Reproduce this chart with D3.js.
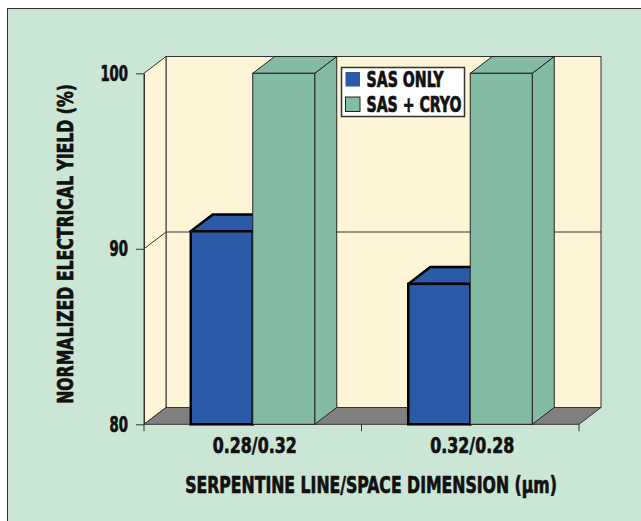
<!DOCTYPE html>
<html>
<head>
<meta charset="utf-8">
<script src="https://cdn.jsdelivr.net/npm/d3@7"></script>
<style>
  html, body { margin: 0; padding: 0; background: #ffffff; }
  svg { display: block; }
  text { font-family: "Liberation Sans Narrow", "DejaVu Sans Condensed", "DejaVu Sans", sans-serif; font-weight: bold; fill: #111; stroke: #111; stroke-width: 0.7px; stroke-linejoin: round; }
</style>
</head>
<body>
<svg id="chart" width="641" height="521"></svg>
<script>
// Categories along the x axis
const categories = ["0.28/0.32", "0.32/0.28"];
// Series names shown in the legend
const seriesNames = ["SAS ONLY", "SAS + CRYO"];
// Normalized electrical yield (%) per category
const sasOnly = [91, 88];
const sasCryo = [100, 100];
// Y axis tick labels
const yTicks = [80, 90, 100];

const W = 641, H = 521;
const svg = d3.select("#chart");

const colors = {
  panel: "#cce6d6",
  wall: "#fdf5d6",
  floor: "#808080",
  line: "#333333",
  blue: "#2a5aa8",
  green: "#84bba5"
};
const seriesColors = [colors.blue, colors.green];

// 3D depth offset of the plot box
const depthX = 22, depthY = 16.8;

const y = d3.scaleLinear().domain([80, 100]).range([424.3, 73.3]);
const x = d3.scaleBand().domain(categories).range([144, 579]);
const barW = x.bandwidth() * 0.285;

// Bold condensed label: natural text squeezed horizontally to a given width
function label(parent, str, o) {
  const g = parent.append("g")
    .attr("transform", `translate(${o.x},${o.y})` + (o.rotate ? ` rotate(${o.rotate})` : ""));
  const t = g.append("text")
    .attr("text-anchor", o.anchor || "start")
    .attr("font-size", o.size)
    .text(str);
  const natural = t.node().getComputedTextLength();
  if (o.width && natural > 0) t.attr("transform", `scale(${o.width / natural},1)`);
  return g;
}

// Panel background
svg.append("rect")
  .attr("x", 7.5).attr("y", 8.5).attr("width", W + 10).attr("height", H + 10)
  .attr("fill", colors.panel).attr("stroke", colors.line).attr("stroke-width", 1);

const x0 = x.range()[0], x1 = x.range()[1];
const yBase = y(80), yTop = y(100);

const pts = arr => arr.map(p => p.join(",")).join(" ");

// Back wall
svg.append("rect")
  .attr("x", x0 + depthX).attr("y", yTop - depthY)
  .attr("width", x1 - x0).attr("height", yBase - yTop)
  .attr("fill", colors.wall).attr("stroke", colors.line).attr("stroke-width", 1);

// Left side wall
svg.append("polygon")
  .attr("points", pts([[x0, yBase], [x0, yTop], [x0 + depthX, yTop - depthY], [x0 + depthX, yBase - depthY]]))
  .attr("fill", colors.wall).attr("stroke", colors.line).attr("stroke-width", 1);

// Gridlines on the side and back walls
yTicks.filter(v => v !== 80 && v !== 100).forEach(v => {
  svg.append("polyline")
    .attr("points", pts([[x0, y(v)], [x0 + depthX, y(v) - depthY], [x1 + depthX, y(v) - depthY]]))
    .attr("fill", "none").attr("stroke", colors.line).attr("stroke-width", 1);
});

// Floor
svg.append("polygon")
  .attr("points", pts([[x0, yBase], [x1, yBase], [x1 + depthX, yBase - depthY], [x0 + depthX, yBase - depthY]]))
  .attr("fill", colors.floor).attr("stroke", colors.line).attr("stroke-width", 1);

// Y axis: line and tick marks from d3, labels drawn condensed
const yAxis = svg.append("g")
  .attr("transform", `translate(${x0},0)`)
  .call(d3.axisLeft(y).tickValues(yTicks).tickSize(8).tickSizeOuter(0).tickFormat(""));
yAxis.select(".domain").attr("stroke", colors.line);
yAxis.selectAll(".tick line").attr("stroke", colors.line);
yTicks.forEach(v => {
  label(svg, String(v), { x: 128, y: y(v) + 7.5, size: 20.5, anchor: "end", width: String(v).length * 9.2 });
});

// X axis: boundary ticks and centered category labels
const boundaries = [x0].concat(categories.map(c => x(c) + x.bandwidth()));
svg.selectAll(".xtick").data(boundaries).enter().append("line")
  .attr("class", "xtick")
  .attr("x1", d => d).attr("x2", d => d)
  .attr("y1", yBase).attr("y2", yBase + 7)
  .attr("stroke", colors.line).attr("stroke-width", 1);
categories.forEach(c => {
  label(svg, c, { x: x(c) + x.bandwidth() / 2 + 2, y: 453.3, size: 22, anchor: "middle", width: 84 });
});

// Bars: right side face, top face and front face
function bar3d(g, left, value, fill, stroke, sw) {
  const right = left + barW, top = y(value);
  g.append("polygon")
    .attr("points", pts([[right, yBase], [right, top], [right + depthX, top - depthY], [right + depthX, yBase - depthY]]))
    .attr("fill", fill).attr("stroke", stroke).attr("stroke-width", sw).attr("stroke-linejoin", "round");
  g.append("polygon")
    .attr("points", pts([[left, top], [left + depthX, top - depthY], [right + depthX, top - depthY], [right, top]]))
    .attr("fill", fill).attr("stroke", stroke).attr("stroke-width", sw).attr("stroke-linejoin", "round");
  g.append("rect")
    .attr("x", left).attr("y", top).attr("width", barW).attr("height", yBase - top)
    .attr("fill", fill).attr("stroke", stroke).attr("stroke-width", sw);
}

categories.forEach((c, i) => {
  const g = svg.append("g");
  const start = x(c) + x.bandwidth() / 2 - barW;
  bar3d(g, start, sasOnly[i], colors.blue, "#000", 2.5);
  bar3d(g, start + barW, sasCryo[i], colors.green, "#222", 1);
});

// Legend
const legend = svg.append("g").attr("transform", "translate(341.5,67.5)");
legend.append("rect")
  .attr("width", 123).attr("height", 49)
  .attr("fill", "#ffffff").attr("stroke", colors.line).attr("stroke-width", 1.5);
seriesNames.forEach((name, i) => {
  legend.append("rect")
    .attr("x", 4).attr("y", 4.5 + i * 25).attr("width", 14.5).attr("height", 14.5)
    .attr("fill", seriesColors[i])
    .attr("stroke", i === 1 ? "#222" : "none").attr("stroke-width", 1);
  label(legend, name, { x: 25, y: 19.2 + i * 25, size: 20.5, width: i === 0 ? 77 : 95 });
});

// Axis titles
label(svg, "SERPENTINE LINE/SPACE DIMENSION (µm)", { x: 371, y: 493.3, size: 23.5, anchor: "middle", width: 372 });
label(svg, "NORMALIZED ELECTRICAL YIELD (%)", { x: 72.7, y: 244, size: 20.5, anchor: "middle", width: 320, rotate: -90 });
</script>
</body>
</html>
